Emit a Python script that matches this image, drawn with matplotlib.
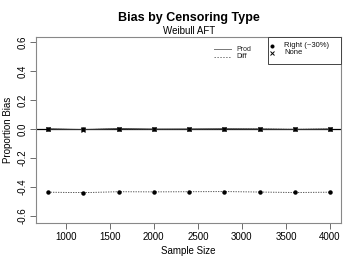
import matplotlib
matplotlib.use("Agg")
import matplotlib.pyplot as plt
from matplotlib.lines import Line2D
from matplotlib.patches import Rectangle

plt.rcParams['font.family'] = ['Liberation Sans', 'DejaVu Sans']

sample_size = [800, 1200, 1600, 2000, 2400, 2800, 3200, 3600, 4000]
prod_right = [0.002, -0.002, 0.003, 0.001, 0.001, 0.002, 0.001, -0.001, 0.001]
prod_none = [0.001, -0.003, 0.002, -0.001, 0.000, 0.001, 0.000, -0.002, 0.000]
diff_right = [-0.435, -0.438, -0.432, -0.433, -0.432, -0.431, -0.434, -0.437, -0.435]
diff_none = [0.000, -0.002, 0.001, -0.002, -0.001, 0.000, 0.001, -0.001, 0.001]

x_ticks = [1000, 1500, 2000, 2500, 3000, 3500, 4000]
y_ticks = [-0.6, -0.4, -0.2, 0.0, 0.2, 0.4, 0.6]
method_labels = ['Prod', 'Diff']
censor_labels = ['Right (~30%)', 'None']

W, H = 360.0, 270.0
def fx(px):
    return px / W
def fy(py):
    return 1 - py / H

fig = plt.figure(figsize=(3.6, 2.7), dpi=100)
ax = fig.add_axes([fx(36), fy(223.3), fx(341) - fx(36), fy(36.7) - fy(223.3)])

ax.axhline(0, color='black', lw=0.9, zorder=1)
ax.plot(sample_size, prod_right, color='#333333', lw=0.6, ls='-', marker='o', ms=2.2, mfc='black', mec='black')
ax.plot(sample_size, prod_none, color='#333333', lw=0.6, ls='-', marker='x', ms=2.6, mec='black', mew=0.8)
ax.plot(sample_size, diff_right, color='#333333', lw=0.6, ls=(0, (1.5, 1.5)), marker='o', ms=2.2, mfc='black', mec='black')
ax.plot(sample_size, diff_none, color='#333333', lw=0.6, ls=(0, (1.5, 1.5)), marker='x', ms=2.6, mec='black', mew=0.8)

ax.set_xlim(663, 4125)
ax.set_ylim(-0.650, 0.639)
ax.set_xticks(x_ticks)
ax.set_xticklabels([str(v) for v in x_ticks], fontsize=7)
ax.set_yticks(y_ticks)
ax.set_yticklabels(['%.1f' % v if v != 0 else '0.0' for v in y_ticks], fontsize=7, rotation=90, va='center')
ax.tick_params(direction='out', length=4, width=0.6, color='#555555', pad=2)
for s in ax.spines.values():
    s.set_color('#888888')
    s.set_linewidth(0.8)

ax.set_xlabel('Sample Size', fontsize=7, labelpad=3)
ax.set_ylabel('Proportion Bias', fontsize=7, labelpad=3)
fig.text(fx(189), fy(18), 'Bias by Censoring Type', ha='center', va='center', fontsize=9, fontweight='bold')
fig.text(fx(189), fy(31), 'Weibull AFT', ha='center', va='center', fontsize=7)

# method legend (no frame)
styles = ['-', (0, (1.5, 1.5))]
for i, (lab, st) in enumerate(zip(method_labels, styles)):
    yy = 49.3 + 7.4 * i
    fig.add_artist(Line2D([fx(214), fx(231)], [fy(yy), fy(yy)], color='#777777', lw=0.7, ls=st,
                          transform=fig.transFigure))
    fig.text(fx(236), fy(yy), lab, ha='left', va='center', fontsize=5, color='#222222')

# censoring legend (framed)
fig.add_artist(Rectangle((fx(267.5), fy(64)), fx(341) - fx(267.5), fy(36.7) - fy(64),
                         transform=fig.transFigure, fill=True, facecolor='white',
                         edgecolor='#444444', lw=0.7, zorder=3))
markers = ['o', 'x']
for i, (lab, mk) in enumerate(zip(censor_labels, markers)):
    yy = 45.7 + 7.0 * i
    fig.add_artist(Line2D([fx(272)], [fy(yy)], ls='none', marker=mk, ms=2.2 if mk == 'o' else 2.4,
                          color='black', mew=0.7, transform=fig.transFigure, zorder=4))
    fig.text(fx(284), fy(yy), lab, ha='left', va='center', fontsize=5.5, color='#111111', zorder=4)

fig.savefig('out.png', dpi=100)
